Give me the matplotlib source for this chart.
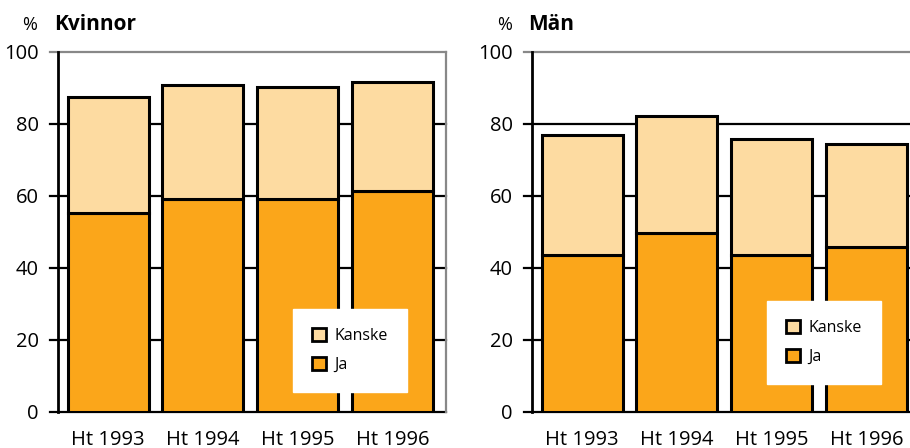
import matplotlib.pyplot as plt
from matplotlib.patches import Patch

plt.rcParams['font.family'] = ['Open Sans', 'DejaVu Sans']

years = ['Ht 1993', 'Ht 1994', 'Ht 1995', 'Ht 1996']
kvinnor_ja = [55.2, 59.2, 59.2, 61.3]
kvinnor_total = [87.5, 90.8, 90.3, 91.7]
man_ja = [43.6, 49.7, 43.6, 45.7]
man_total = [76.9, 82.3, 75.9, 74.5]
yticks = [0, 20, 40, 60, 80, 100]

c_ja = '#FBA61A'
c_kanske = '#FDDBA1'

fig = plt.figure(figsize=(9.1, 4.48), dpi=100)


def panel(rect, ja, total, legend_pos):
    ax = fig.add_axes(rect)
    x = range(len(years))
    kanske = [t - j for t, j in zip(total, ja)]
    ax.bar(x, ja, width=0.855, color=c_ja, edgecolor='black', lw=2.2, zorder=3)
    ax.bar(x, kanske, bottom=ja, width=0.855, color=c_kanske, edgecolor='black', lw=2.2, zorder=3)
    ax.set_xlim(-0.53, 3.565)
    ax.set_ylim(0, 100)
    for v in yticks:
        col = '#888888' if v == 100 else 'black'
        ax.axhline(v, xmin=-0.021, xmax=1, color=col, lw=1.6, clip_on=False, zorder=1)
    ax.set_yticks(yticks)
    ax.tick_params(axis='y', length=0, pad=14, labelsize=14.5)
    ax.set_xticks(list(x))
    ax.set_xticklabels(years)
    ax.tick_params(axis='x', length=0, pad=13, labelsize=14.5)
    ax.spines['top'].set_visible(False)
    ax.spines['bottom'].set_visible(False)
    ax.spines['left'].set_linewidth(2)
    ax.spines['left'].set_zorder(4)
    ax.spines['right'].set_color('#888888')
    ax.spines['right'].set_linewidth(1.6)
    handles = [Patch(facecolor=c_kanske, edgecolor='black', lw=2, label='Kanske'),
               Patch(facecolor=c_ja, edgecolor='black', lw=2, label='Ja')]
    leg = ax.legend(handles=handles, loc='lower left', bbox_to_anchor=legend_pos,
                    frameon=True, fancybox=False, framealpha=1, edgecolor='white',
                    fontsize=11.5, handlelength=0.9, handleheight=0.9,
                    borderpad=1.2, labelspacing=0.8, handletextpad=0.5,
                    borderaxespad=0)
    leg.set_zorder(5)
    return ax


panel([0.0637, 0.0804, 0.4264, 0.8036], kvinnor_ja, kvinnor_total, (0.605, 0.055))
panel([0.5846, 0.0804, 0.4264, 0.8036], man_ja, man_total, (0.605, 0.078))

fig.text(0.024, 0.932, '%', fontsize=13)
fig.text(0.060, 0.932, 'Kvinnor', fontsize=15, fontweight='bold')
fig.text(0.546, 0.932, '%', fontsize=13)
fig.text(0.580, 0.932, 'Män', fontsize=15, fontweight='bold')

fig.savefig('out.png', dpi=100)
